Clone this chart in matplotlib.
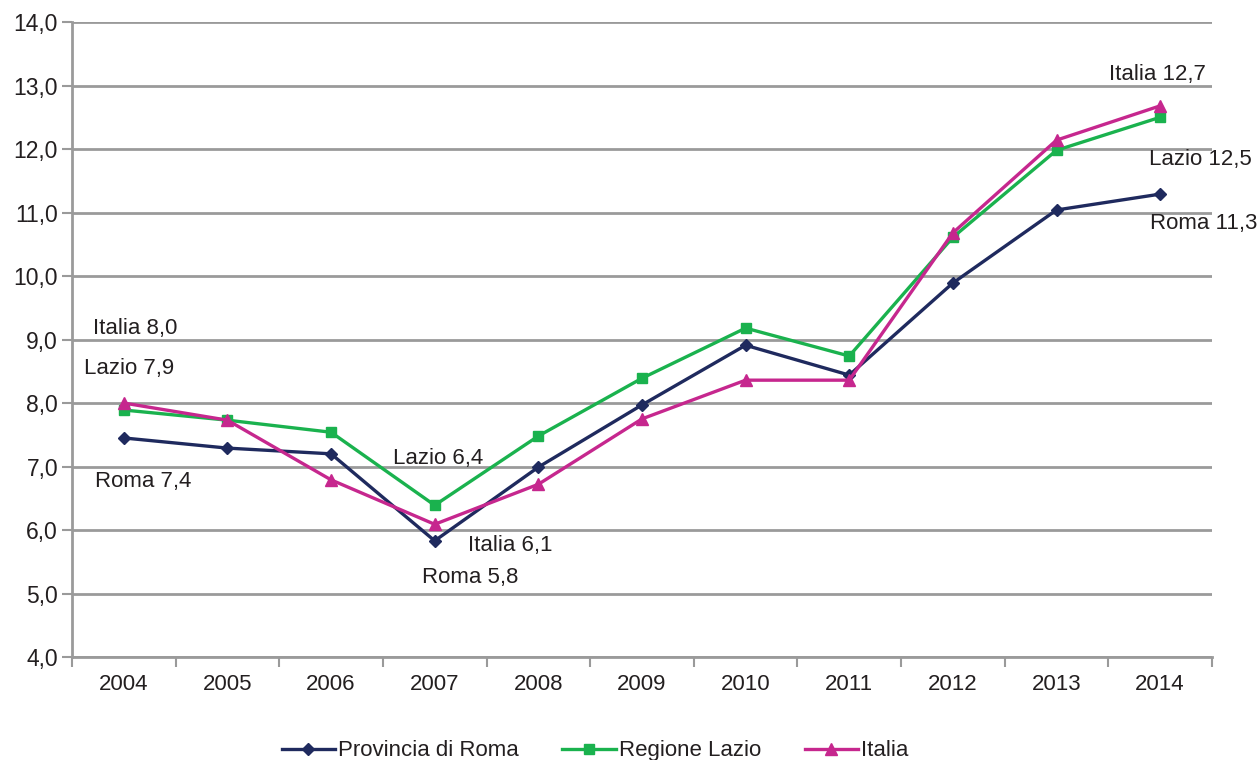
import numpy as np
import matplotlib.pyplot as plt

plt.rcParams['font.family'] = ['Liberation Sans', 'DejaVu Sans']

anni = ['2004', '2005', '2006', '2007', '2008', '2009', '2010', '2011', '2012', '2013', '2014']
roma = [7.45, 7.29, 7.2, 5.83, 6.99, 7.97, 8.91, 8.44, 9.89, 11.04, 11.29]
lazio = [7.89, 7.73, 7.54, 6.39, 7.48, 8.39, 9.18, 8.74, 10.61, 11.98, 12.5]
italia = [8.0, 7.73, 6.79, 6.09, 6.72, 7.75, 8.36, 8.36, 10.68, 12.14, 12.68]

# etichette: (testo, x, y)
etichette = [
    ('Italia 8,0', 0.11, 9.17),
    ('Lazio 7,9', 0.05, 8.54),
    ('Roma 7,4', 0.19, 6.76),
    ('Lazio 6,4', 3.03, 7.12),
    ('Italia 6,1', 3.73, 5.76),
    ('Roma 5,8', 3.34, 5.26),
    ('Italia 12,7', 9.97, 13.17),
    ('Lazio 12,5', 10.39, 11.83),
    ('Roma 11,3', 10.42, 10.82),
]

fig = plt.figure(figsize=(12.58, 7.6), dpi=100)
ax = fig.add_axes([0.0572, 0.1355, 0.9062, 0.8355])

x = np.arange(len(anni))
grigio = '#9a9a9a'

ax.plot(x, roma, color='#1f2a5e', lw=2.4, marker='D', ms=6, label='Provincia di Roma', zorder=3)
ax.plot(x, lazio, color='#1ab24e', lw=2.4, marker='s', ms=7.5, label='Regione Lazio', zorder=3)
ax.plot(x, italia, color='#c6278e', lw=2.4, marker='^', ms=8, label='Italia', zorder=4)

for testo, tx, ty in etichette:
    ax.text(tx, ty, testo, ha='center', va='center', fontsize=16, color='#231f20')

ax.set_xlim(-0.5, 10.5)
ax.set_ylim(4, 14)
ax.set_yticks(np.arange(4, 14.1, 1))
ax.set_yticklabels([f'{v:.1f}'.replace('.', ',') for v in np.arange(4, 14.1, 1)])
ax.set_xticks(x)
ax.set_xticklabels(anni)
ax.set_xticks(np.arange(-0.5, 10.6, 1), minor=True)
ax.tick_params(axis='x', which='major', length=0, pad=12, labelsize=16, labelcolor='#231f20')
ax.tick_params(axis='x', which='minor', length=7, width=1.5, color=grigio)
ax.tick_params(axis='y', length=7, width=1.5, color=grigio, labelsize=16.5, pad=3,
               labelcolor='#231f20')

ax.grid(axis='y', color=grigio, lw=2, zorder=0)
ax.set_axisbelow(True)
for s in ['top', 'right']:
    ax.spines[s].set_visible(False)
for s in ['left', 'bottom']:
    ax.spines[s].set_color(grigio)
    ax.spines[s].set_linewidth(2)

leg = fig.legend(loc='lower center', bbox_to_anchor=(0.473, -0.028), ncol=3, frameon=False,
                 fontsize=16, handlelength=2.4, columnspacing=1.95, handletextpad=0.15)
for t in leg.get_texts():
    t.set_color('#231f20')

fig.savefig('out.png', dpi=100)
